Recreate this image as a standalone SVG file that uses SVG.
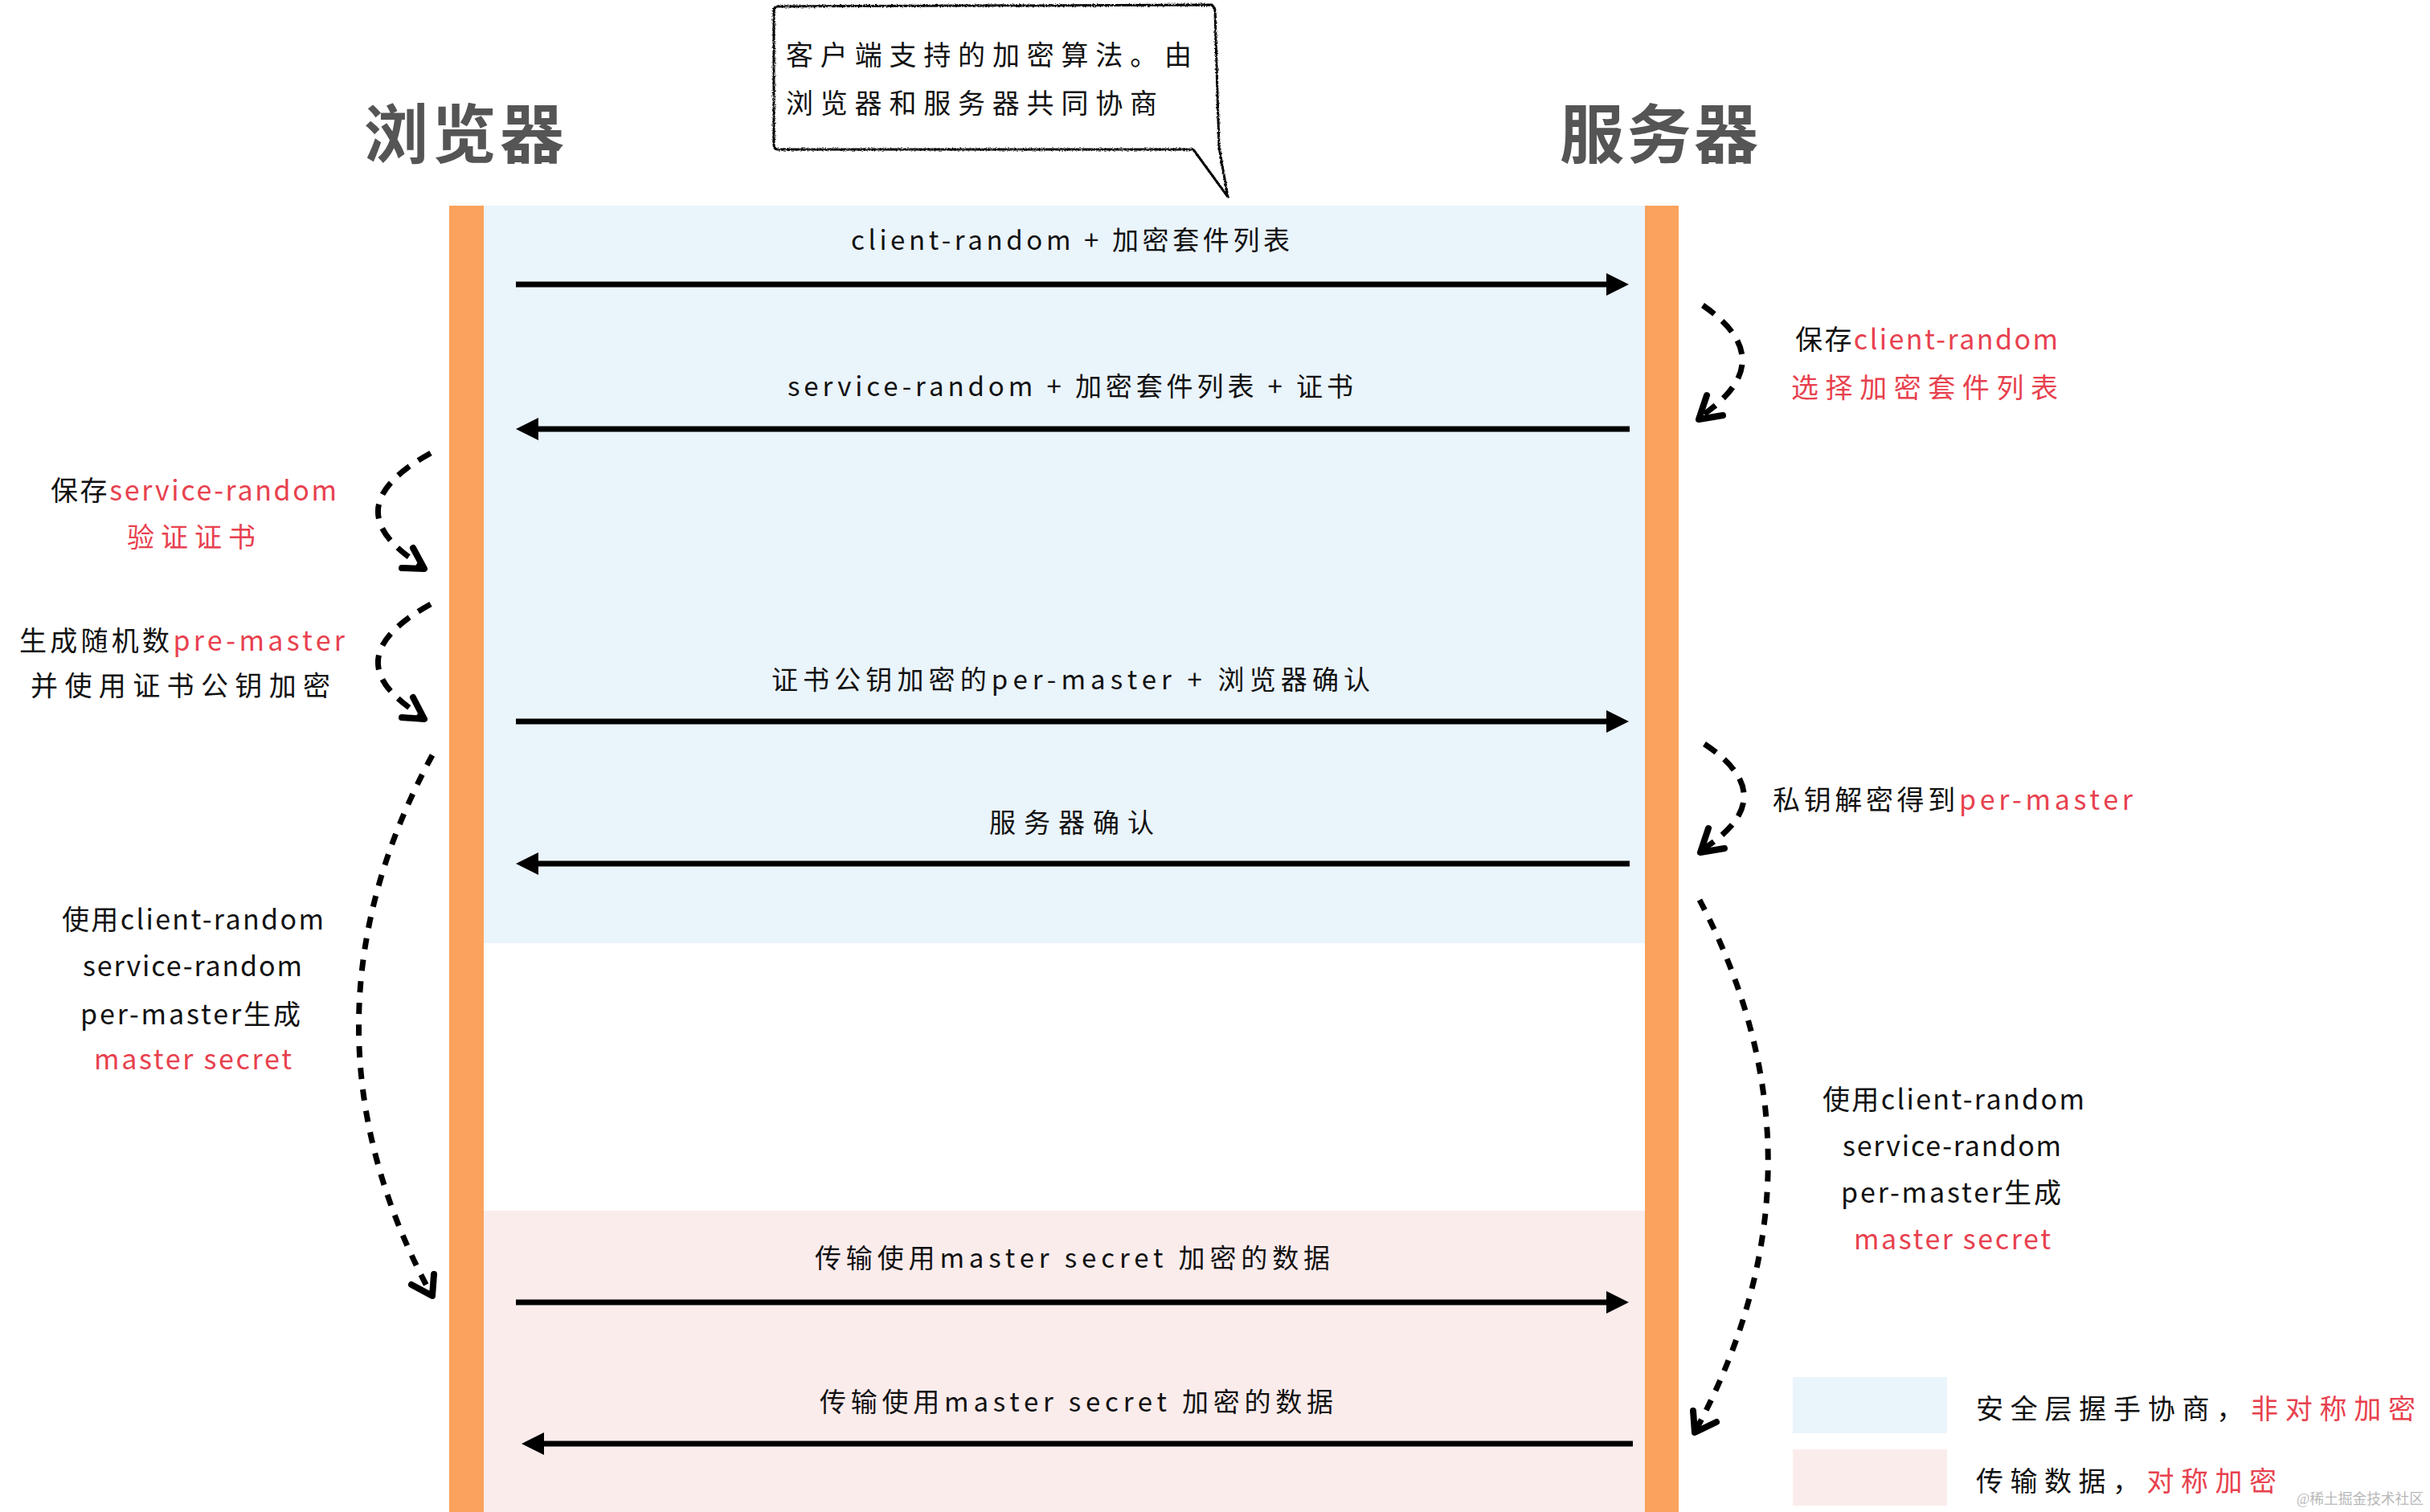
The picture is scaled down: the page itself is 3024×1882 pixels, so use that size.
<svg xmlns="http://www.w3.org/2000/svg" width="3024" height="1882" viewBox="0 0 3024 1882">
<style>
.t{font-family:"Noto Sans CJK SC","Noto Sans",sans-serif;font-size:33px;fill:#111;}
.s{font-family:"Noto Sans CJK SC","Noto Sans",sans-serif;font-size:34px;fill:#111;}
.title{font-family:"Noto Sans CJK SC","Noto Sans",sans-serif;font-size:80px;font-weight:700;fill:#555;}
.r{fill:#E8414E;}
.bar{fill:#FBA25C;}
.hs{fill:#EAF4FB;}
.td{fill:#FBECEC;}
.msg{stroke:#000;stroke-width:7;fill:none;marker-end:url(#ah);}
.dash{stroke:#000;stroke-width:7;fill:none;stroke-dasharray:18 13;}
.dashl{stroke:#000;stroke-width:7;fill:none;stroke-dasharray:14 13;}
.head{stroke:#000;stroke-width:8;fill:none;stroke-linecap:round;stroke-linejoin:round;}
.wm{font-family:"Liberation Serif","Noto Sans CJK SC",serif;font-size:18px;fill:#b8b8b8;}
</style>
<defs>
<marker id="ah" markerUnits="userSpaceOnUse" markerWidth="30" markerHeight="30" refX="6" refY="14" orient="auto">
<path d="M0,0 L28,14 L0,28 Z" fill="#000"/>
</marker>
<filter id="rough" x="-5%" y="-5%" width="110%" height="110%">
<feTurbulence type="fractalNoise" baseFrequency="0.6" numOctaves="1" seed="3"/>
<feDisplacementMap in="SourceGraphic" scale="4"/>
</filter>
</defs>
<rect width="3024" height="1882" fill="#fff"/>

<g id="background">
<rect class="hs" x="602" y="256" width="1445" height="918"/>
<rect class="td" x="602" y="1507" width="1445" height="375"/>
</g>

<g id="browser">
<rect class="bar" x="559" y="256" width="43" height="1626"/>
<text class="title" x="453" y="196" textLength="249" lengthAdjust="spacing">浏览器</text>
</g>
<g id="server">
<rect class="bar" x="2047" y="256" width="42" height="1626"/>
<text class="title" x="1941" y="196" textLength="247" lengthAdjust="spacing">服务器</text>
</g>

<g id="bubble">
<path d="M968 8 L1507 6 Q1512 8 1512 14 L1517 183 L1528 245 L1485 186 L968 186 Q963 186 963 180 L963 14 Q963 8 968 8 Z" fill="#fff" stroke="#000" stroke-width="3" filter="url(#rough)"/>
<text class="s" x="978" y="81" textLength="505" lengthAdjust="spacing">客户端支持的加密算法。由</text>
<text class="s" x="978" y="141" textLength="462" lengthAdjust="spacing">浏览器和服务器共同协商</text>
</g>

<g id="connectors">
<path class="msg" d="M642 354 H2005"/>
<path class="msg" d="M2028 534 H664"/>
<path class="msg" d="M642 898 H2005"/>
<path class="msg" d="M2028 1075 H664"/>
<path class="msg" d="M642 1621 H2005"/>
<path class="msg" d="M2032 1797 H671"/>

<path class="dash" d="M536 564 Q409 634 528 706"/>
<polyline class="head" points="514,682 528,708 500,707"/>
<path class="dash" d="M536 752 Q409 822 528 893"/>
<polyline class="head" points="514,868 528,895 500,893"/>
<path class="dashl" d="M538 940 Q356 1276 536 1610"/>
<polyline class="head" points="540,1586 538,1613 512,1599"/>

<path class="dash" d="M2119 380 Q2220 450 2114 520"/>
<polyline class="head" points="2124,492 2114,522 2144,517"/>
<path class="dash" d="M2121 926 Q2222 993 2116 1059"/>
<polyline class="head" points="2126,1031 2116,1061 2146,1056"/>
<path class="dashl" d="M2115 1120 Q2288 1450 2110 1781"/>
<polyline class="head" points="2107,1756 2109,1783 2136,1770"/>
</g>

<g id="msg-labels">
<text class="t" x="1059" y="311" textLength="546" lengthAdjust="spacing">client-random + 加密套件列表</text>
<text class="t" x="980" y="493" textLength="704" lengthAdjust="spacing">service-random + 加密套件列表 + 证书</text>
<text class="t" x="960" y="858" textLength="745" lengthAdjust="spacing">证书公钥加密的per-master + 浏览器确认</text>
<text class="t" x="1231" y="1036" textLength="205" lengthAdjust="spacing">服务器确认</text>
<text class="t" x="1014" y="1578" textLength="641" lengthAdjust="spacing">传输使用master secret 加密的数据</text>
<text class="t" x="1020" y="1757" textLength="639" lengthAdjust="spacing">传输使用master secret 加密的数据</text>
</g>

<g id="note-server-1">
<text class="s" x="2234" y="435" textLength="327" lengthAdjust="spacing">保存<tspan class="r">client-random</tspan></text>
<text class="s r" x="2229" y="495" textLength="332" lengthAdjust="spacing">选择加密套件列表</text>
</g>
<g id="note-browser-1">
<text class="s" x="63" y="623" textLength="356" lengthAdjust="spacing">保存<tspan class="r">service-random</tspan></text>
<text class="s r" x="158" y="681" textLength="160" lengthAdjust="spacing">验证证书</text>
</g>
<g id="note-browser-2">
<text class="s" x="24" y="810" textLength="405" lengthAdjust="spacing">生成随机数<tspan class="r">pre-master</tspan></text>
<text class="s" x="38" y="866" textLength="373" lengthAdjust="spacing">并使用证书公钥加密</text>
</g>
<g id="note-server-2">
<text class="s" x="2206" y="1008" textLength="448" lengthAdjust="spacing">私钥解密得到<tspan class="r">per-master</tspan></text>
</g>
<g id="note-browser-3">
<text class="s" x="77" y="1157" textLength="326" lengthAdjust="spacing">使用client-random</text>
<text class="s" x="103" y="1215" textLength="273" lengthAdjust="spacing">service-random</text>
<text class="s" x="100" y="1275" textLength="274" lengthAdjust="spacing">per-master生成</text>
<text class="s r" x="117" y="1331" textLength="246" lengthAdjust="spacing">master secret</text>
</g>
<g id="note-server-3">
<text class="s" x="2268" y="1381" textLength="326" lengthAdjust="spacing">使用client-random</text>
<text class="s" x="2293" y="1439" textLength="272" lengthAdjust="spacing">service-random</text>
<text class="s" x="2291" y="1497" textLength="274" lengthAdjust="spacing">per-master生成</text>
<text class="s r" x="2307" y="1555" textLength="245" lengthAdjust="spacing">master secret</text>
</g>

<g id="legend">
<rect class="hs" x="2231" y="1714" width="192" height="70"/>
<text class="s" x="2459" y="1766" textLength="547" lengthAdjust="spacing">安全层握手协商，<tspan class="r">非对称加密</tspan></text>
<rect class="td" x="2231" y="1804" width="192" height="70"/>
<text class="s" x="2459" y="1856" textLength="374" lengthAdjust="spacing">传输数据，<tspan class="r">对称加密</tspan></text>
</g>

<text class="wm" x="2858" y="1872" textLength="158" lengthAdjust="spacingAndGlyphs">@稀土掘金技术社区</text>
</svg>
